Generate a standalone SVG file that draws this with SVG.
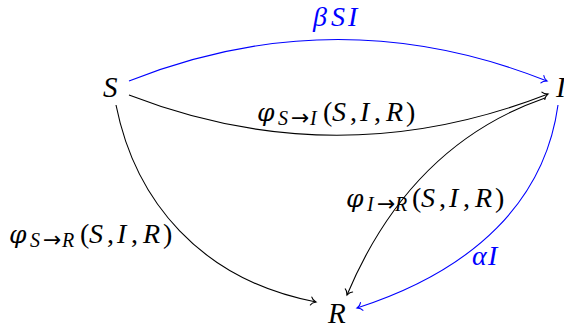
<svg xmlns="http://www.w3.org/2000/svg" width="564" height="330" viewBox="0 0 564 330">
<style>
.m{font-family:"Liberation Serif","DejaVu Serif",serif;font-size:28px;font-style:italic;fill:#000}
.n{font-size:29px}
.u{font-style:normal}
.phi{font-family:"DejaVu Serif",serif;font-size:25px}
.sub{font-size:20px}
.arr{font-family:"DejaVu Sans",sans-serif;font-style:normal;font-size:22px}
.b{fill:#0000ff}
.e{fill:none;stroke:#000;stroke-width:1.1}
.eb{fill:none;stroke:#0000ff;stroke-width:1.1}
</style>
<defs>
<marker id="ak" markerUnits="userSpaceOnUse" orient="auto" markerWidth="14" markerHeight="14" refX="0" refY="0" viewBox="-7 -7 14 14" overflow="visible">
<path d="M-5,-4 C-4,-1.5 -1,-0.4 0,0 C-1,0.4 -4,1.5 -5,4" fill="none" stroke="#000" stroke-width="1.1" stroke-linecap="round"/>
</marker>
<marker id="ab" markerUnits="userSpaceOnUse" orient="auto" markerWidth="14" markerHeight="14" refX="0" refY="0" viewBox="-7 -7 14 14" overflow="visible">
<path d="M-5,-4 C-4,-1.5 -1,-0.4 0,0 C-1,0.4 -4,1.5 -5,4" fill="none" stroke="#0000ff" stroke-width="1.1" stroke-linecap="round"/>
</marker>
</defs>
<g id="connectors">
<path class="eb" d="M129,81 Q338,-2 547,81" marker-end="url(#ab)"/>
<path class="e" d="M129,95 Q338,176 548,94" marker-end="url(#ak)"/>
<path class="e" d="M116,105 C135,200 200,280 316,302" marker-end="url(#ak)"/>
<path class="e" d="M545,98 Q410,145 347,295" marker-end="url(#ak)"/>
<path class="eb" d="M558,105 C545,200 475,270 357,308" marker-end="url(#ab)"/>
</g>
<g id="labels">
<text class="m b" y="26"><tspan x="313">β</tspan><tspan x="331">S</tspan><tspan x="348">I</tspan></text>
<text class="m" y="121"><tspan x="257" class="phi">φ</tspan><tspan x="278" dy="4" class="sub">S</tspan><tspan x="291" class="arr">→</tspan><tspan x="310" class="sub">I</tspan><tspan x="323" dy="-4" class="u">(</tspan><tspan x="332">S</tspan><tspan x="350" class="u">,</tspan><tspan x="360">I</tspan><tspan x="374" class="u">,</tspan><tspan x="386">R</tspan><tspan x="406" class="u">)</tspan></text>
<text class="m" y="243"><tspan x="9" class="phi">φ</tspan><tspan x="30" dy="4" class="sub">S</tspan><tspan x="43" class="arr">→</tspan><tspan x="62" class="sub">R</tspan><tspan x="80" dy="-4" class="u">(</tspan><tspan x="89">S</tspan><tspan x="107" class="u">,</tspan><tspan x="117">I</tspan><tspan x="131" class="u">,</tspan><tspan x="143">R</tspan><tspan x="163" class="u">)</tspan></text>
<text class="m" y="207"><tspan x="346" class="phi">φ</tspan><tspan x="367" dy="4" class="sub">I</tspan><tspan x="377" class="arr">→</tspan><tspan x="395" class="sub">R</tspan><tspan x="412" dy="-4" class="u">(</tspan><tspan x="421">S</tspan><tspan x="439" class="u">,</tspan><tspan x="449">I</tspan><tspan x="463" class="u">,</tspan><tspan x="475">R</tspan><tspan x="495" class="u">)</tspan></text>
<text class="m b" y="265"><tspan x="472">α</tspan><tspan x="488">I</tspan></text>
</g>
<g id="node-S"><text class="m n" x="103" y="97">S</text></g>
<g id="node-I"><text class="m n" x="556" y="97">I</text></g>
<g id="node-R"><text class="m n" x="328" y="323">R</text></g>
</svg>
